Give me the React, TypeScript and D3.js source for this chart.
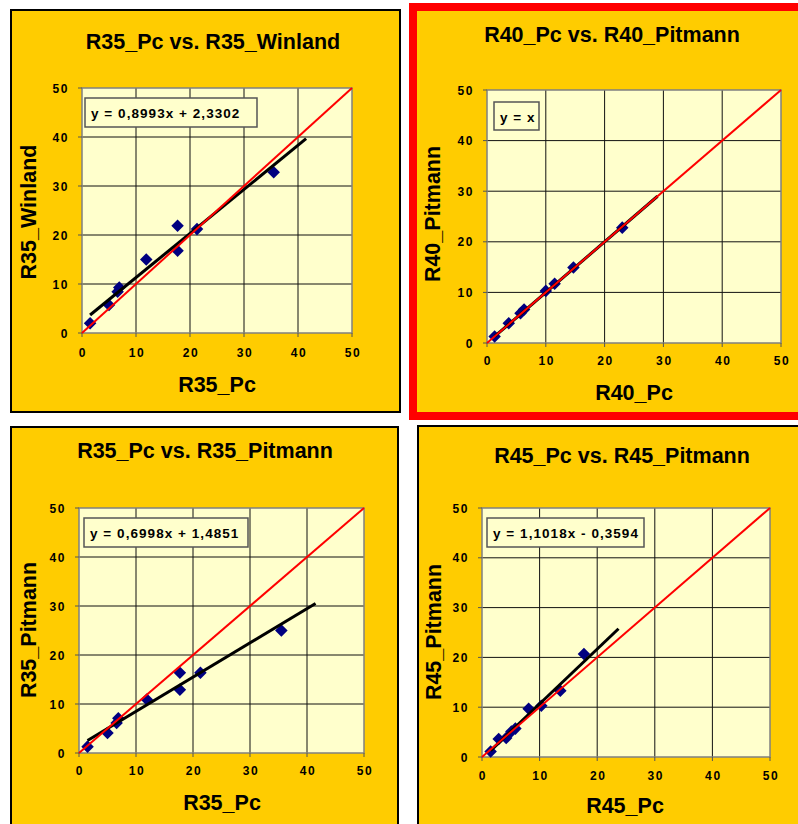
import React from 'react';
import * as d3 from 'd3';

// values
const axisTicks = [0, 10, 20, 30, 40, 50];

const r35Pc = [1.5, 5.0, 6.6, 6.9, 11.9, 17.7, 17.7, 21.3, 35.5];
const r35Winland = [2.0, 5.7, 8.4, 9.3, 15.0, 21.9, 16.8, 21.2, 32.8];
const r35Pitmann = [1.3, 4.1, 6.1, 7.1, 10.9, 16.4, 12.9, 16.4, 25.0];

const r40Pc = [1.3, 3.7, 5.7, 6.3, 10.0, 11.5, 14.7, 23.0];
const r40Pitmann = [1.3, 3.9, 5.9, 6.6, 10.3, 11.7, 14.9, 22.8];

const r45Pc = [1.5, 2.9, 4.2, 5.1, 5.8, 8.1, 10.3, 13.6, 17.7];
const r45Pitmann = [1.1, 3.6, 3.8, 5.1, 5.7, 9.7, 10.3, 13.3, 20.7];

// trendline [slope, intercept], forecast forward by 6 units as in Excel
const fitR35Winland = [0.8993, 2.3302];
const fitR40Pitmann = [1, 0];
const fitR35Pitmann = [0.6998, 1.4851];
const fitR45Pitmann = [1.1018, -0.3594];
const forecast = 6;

const charts = [
  { title: 'R35_Pc vs. R35_Winland', xLabel: 'R35_Pc', yLabel: 'R35_Winland', xs: r35Pc, ys: r35Winland, fit: fitR35Winland, eq: 'y = 0,8993x + 2,3302' },
  { title: 'R40_Pc vs. R40_Pitmann', xLabel: 'R40_Pc', yLabel: 'R40_Pitmann', xs: r40Pc, ys: r40Pitmann, fit: fitR40Pitmann, eq: 'y = x' },
  { title: 'R35_Pc vs. R35_Pitmann', xLabel: 'R35_Pc', yLabel: 'R35_Pitmann', xs: r35Pc, ys: r35Pitmann, fit: fitR35Pitmann, eq: 'y = 0,6998x + 1,4851' },
  { title: 'R45_Pc vs. R45_Pitmann', xLabel: 'R45_Pc', yLabel: 'R45_Pitmann', xs: r45Pc, ys: r45Pitmann, fit: fitR45Pitmann, eq: 'y = 1,1018x - 0,3594' },
];

// positions of each chart on the sheet
const layouts = [
  { frame: [11, 10, 389, 402], frameColor: '#000', frameWidth: 2, plot: [82, 88, 352, 333], title: [213, 49], yLab: [36, 212], xLab: [217, 392], tickY: 357, box: [85, 98, 172, 29] },
  { frame: [413, 7, 390, 409], frameColor: '#ff0000', frameWidth: 8, plot: [487, 90, 781, 343], title: [612, 42], yLab: [440, 214], xLab: [634, 400], tickY: 365, box: [494, 102, 45, 28] },
  { frame: [11, 427, 387, 410], frameColor: '#000', frameWidth: 2, plot: [79, 508, 364, 753], title: [205, 458], yLab: [36, 630], xLab: [222, 810], tickY: 775, box: [84, 518, 164, 29] },
  { frame: [418, 426, 390, 410], frameColor: '#000', frameWidth: 2, plot: [482, 508, 770, 757], title: [622, 463], yLab: [441, 632], xLab: [625, 813], tickY: 780, box: [487, 518, 157, 29] },
];

const font = '"Liberation Sans", Arial, sans-serif';
const diamond = d3.symbol().type(d3.symbolDiamond2).size(100)();

const Chart = ({ chart, layout }: any) => {
  const [px0, py0, px1, py1] = layout.plot;
  const x = d3.scaleLinear().domain([0, 50]).range([px0, px1]);
  const y = d3.scaleLinear().domain([0, 50]).range([py1, py0]);
  const line = d3.line<number[]>().x(d => x(d[0])).y(d => y(d[1]));

  const [slope, intercept] = chart.fit;
  const xStart = d3.min(chart.xs as number[])!;
  const xEnd = d3.max(chart.xs as number[])! + forecast;
  const trend = [[xStart, slope * xStart + intercept], [xEnd, slope * xEnd + intercept]];

  const [fx, fy, fw, fh] = layout.frame;
  const [bx, by, bw, bh] = layout.box;

  return (
    <g>
      <rect x={fx} y={fy} width={fw} height={fh} fill="#ffcc00" stroke={layout.frameColor} strokeWidth={layout.frameWidth} />
      <rect x={px0} y={py0} width={px1 - px0} height={py1 - py0} fill="#ffffcc" />

      {axisTicks.slice(1, -1).map(t => (
        <g key={t}>
          <line x1={x(t)} x2={x(t)} y1={py0} y2={py1} stroke="#111" strokeWidth={1} />
          <line x1={px0} x2={px1} y1={y(t)} y2={y(t)} stroke="#111" strokeWidth={1} />
        </g>
      ))}
      <rect x={px0} y={py0} width={px1 - px0} height={py1 - py0} fill="none" stroke="#808080" strokeWidth={1.5} />

      {axisTicks.map(t => (
        <g key={'t' + t}>
          <line x1={px0 - 4} x2={px0} y1={y(t)} y2={y(t)} stroke="#555" strokeWidth={1} />
          <line x1={x(t)} x2={x(t)} y1={py1} y2={py1 + 4} stroke="#555" strokeWidth={1} />
          <text x={px0 - 13} y={y(t) + 4.5} textAnchor="end" fontSize={12} fontWeight="bold" letterSpacing={1.6} fontFamily={font}>{t}</text>
          <text x={x(t) + 1} y={layout.tickY} textAnchor="middle" fontSize={12} fontWeight="bold" letterSpacing={1.6} fontFamily={font}>{t}</text>
        </g>
      ))}

      {chart.xs.map((v: number, i: number) => (
        <path key={'p' + i} d={diamond!} transform={`translate(${x(v)},${y(chart.ys[i])})`} fill="#000080" />
      ))}

      <path d={line(trend)!} stroke="#000" strokeWidth={3} fill="none" />
      <path d={line([[0, 0], [50, 50]])!} stroke="#ff0000" strokeWidth={2} fill="none" />

      <rect x={bx} y={by} width={bw} height={bh} fill="#ffffcc" stroke="#555" strokeWidth={1.5} />
      <text x={bx + 6} y={by + 19.5} fontSize={13.5} fontWeight="bold" letterSpacing={1.05} fontFamily={font}>{chart.eq}</text>

      <text x={layout.title[0]} y={layout.title[1]} textAnchor="middle" fontSize={21.5} fontWeight="bold" fontFamily={font}>{chart.title}</text>
      <text x={layout.xLab[0]} y={layout.xLab[1]} textAnchor="middle" fontSize={21.5} fontWeight="bold" fontFamily={font}>{chart.xLabel}</text>
      <text transform={`translate(${layout.yLab[0]},${layout.yLab[1]}) rotate(-90)`} textAnchor="middle" fontSize={21.5} fontWeight="bold" fontFamily={font}>{chart.yLabel}</text>
    </g>
  );
};

const App = () => (
  <svg width={798} height={824} style={{ position: 'absolute', left: 0, top: 0, background: '#fff' }}>
    {charts.map((c, i) => (
      <Chart key={c.title} chart={c} layout={layouts[i]} />
    ))}
  </svg>
);

export default App;
